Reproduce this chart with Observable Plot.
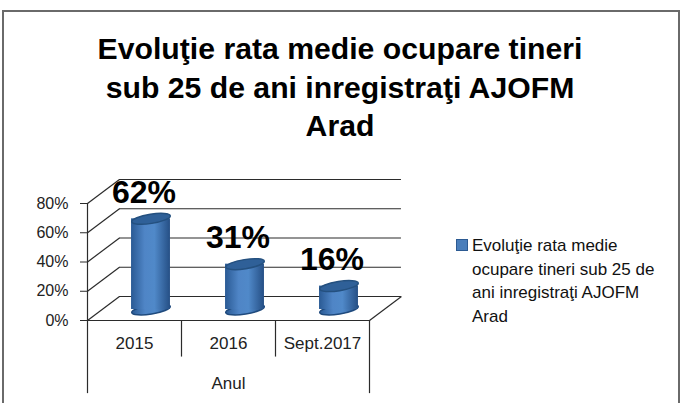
<!DOCTYPE html>
<html><head><meta charset="utf-8">
<script src="https://cdn.jsdelivr.net/npm/d3@7"></script>
<script src="https://cdn.jsdelivr.net/npm/@observablehq/plot@0.6"></script>
<style>
html,body{margin:0;padding:0;background:#fff;overflow:hidden}
#c{position:relative;width:683px;height:403px;font-family:"Liberation Sans",sans-serif;color:#000}
#frame{position:absolute;left:2px;top:10px;width:674px;height:400px;border:2px solid #6a6a6a;box-sizing:content-box}
#title{position:absolute;left:0;top:30px;width:680px;text-align:center;font-weight:bold;font-size:30.2px;line-height:38.5px}
#legend{position:absolute;left:472px;top:234px;width:200px;font-size:17px;line-height:23.5px;color:#111;white-space:nowrap}
#sw{position:absolute;left:456px;top:239px;width:12px;height:12px;background:#4a7ebb;border:1px solid #2c5a92;box-sizing:border-box}
#plot{position:absolute;left:0;top:0}
</style></head><body>
<div id="c"><div id="frame"></div>
<div id="title">Evoluţie rata medie ocupare tineri<br>sub 25 de ani inregistraţi AJOFM<br>Arad</div>
<div id="plot"></div>
<div id="sw"></div>
<div id="legend">Evoluţie rata medie<br>ocupare tineri sub 25 de<br>ani inregistraţi AJOFM<br>Arad</div>
</div>
<script>
const categories = ["2015", "2016", "Sept.2017"];
const values = [62, 31, 16];
const yTicks = [0, 20, 40, 60, 80];
const axisTitle = "Anul";

const rows = categories.map((c, i) => ({c, i, v: values[i]}));
const depthX = 0.34, depthY = 16.4;      // wall depth in data units
const halfW = 0.207;                     // cylinder half width
const ink = "#2b2b2b";

function tilted(rx, ry, deg) {
  const t = deg * Math.PI / 180, k = 0.5523;
  const P = (x, y) => [x * Math.cos(t) - y * Math.sin(t), x * Math.sin(t) + y * Math.cos(t)];
  return {draw(ctx) {
    ctx.moveTo(...P(rx, 0));
    ctx.bezierCurveTo(...P(rx, k * ry), ...P(k * rx, ry), ...P(0, ry));
    ctx.bezierCurveTo(...P(-k * rx, ry), ...P(-rx, k * ry), ...P(-rx, 0));
    ctx.bezierCurveTo(...P(-rx, -k * ry), ...P(-k * rx, -ry), ...P(0, -ry));
    ctx.bezierCurveTo(...P(k * rx, -ry), ...P(rx, -k * ry), ...P(rx, 0));
    ctx.closePath();
  }};
}
const ell = tilted(19.5, 4.6, -9);
const barShift = {dx: 16.5, dy: -11};

const chart = Plot.plot({
  width: 683, height: 403,
  marginLeft: 87, marginRight: 314, marginTop: 203, marginBottom: 83,
  style: {background: "transparent", overflow: "visible"},
  x: {domain: [0, 3], axis: null},
  y: {domain: [0, 80], axis: null},
  marks: [
    Plot.ruleY(yTicks, {y: d => d + depthY, x1: depthX, x2: 3 + depthX, stroke: ink, strokeWidth: 1.2}),
    Plot.link(yTicks, {x1: 0, x2: depthX, y1: d => d, y2: d => d + depthY, stroke: ink, strokeWidth: 1.2}),
    Plot.link([0], {x1: 3, x2: 3 + depthX, y1: 0, y2: depthY, stroke: ink, strokeWidth: 1.2}),
    Plot.ruleX([0], {y1: 0, y2: 80, stroke: ink, strokeWidth: 1.2}),
    Plot.ruleY([0], {x1: 0, x2: 3, stroke: ink, strokeWidth: 1.2}),
    Plot.ruleX([1, 2], {y1: 0, y2: -25, stroke: ink, strokeWidth: 1.2}),
    Plot.ruleX([0, 3], {y1: 0, y2: -50, stroke: ink, strokeWidth: 1.2}),
    Plot.axisY({ticks: yTicks, tickFormat: d => d + "%", tickSize: 7, tickPadding: 12,
      fontSize: 16, fontFamily: "Liberation Sans", color: "#222", stroke: ink, label: null}),
    Plot.dot(rows, {x: d => d.i + 0.5, y: 0, symbol: ell, r: 5, fill: "url(#cyl)", stroke: "#1f4a7d", ...barShift}),
    Plot.rect(rows, {x1: d => d.i + 0.5 - halfW, x2: d => d.i + 0.5 + halfW, y1: 0, y2: "v", fill: "url(#cyl)", ...barShift}),
    Plot.dot(rows, {x: d => d.i + 0.5, y: "v", symbol: ell, r: 5, fill: "#2f6098", stroke: "#24507f", ...barShift}),
    Plot.axisX({ticks: rows.map(d => d.i + 0.5), tickFormat: d => categories[d - 0.5], tickSize: 0, tickPadding: 16,
      fontSize: 17, fontFamily: "Liberation Sans", color: "#222", label: null}),
    Plot.text([axisTitle], {x: 1.5, y: 0, dy: 63, text: d => d, fontSize: 17, fontFamily: "Liberation Sans", fill: "#222"}),
    Plot.text(rows, {x: d => d.i + 0.5, y: "v", text: d => d.v + "%", dx: 9.5, dy: -37,
      fontSize: 32, fontWeight: "bold", fontFamily: "Liberation Sans", fill: "#000"})
  ]
});
const defs = d3.select(chart).insert("defs", ":first-child");
const g = defs.append("linearGradient").attr("id", "cyl");
[[0, "#2a5a94"], [0.35, "#4f85c6"], [0.6, "#5089c9"], [1, "#254f85"]].forEach(([o, c]) =>
  g.append("stop").attr("offset", o).attr("stop-color", c));
document.getElementById("plot").append(chart);
</script>
</body></html>
